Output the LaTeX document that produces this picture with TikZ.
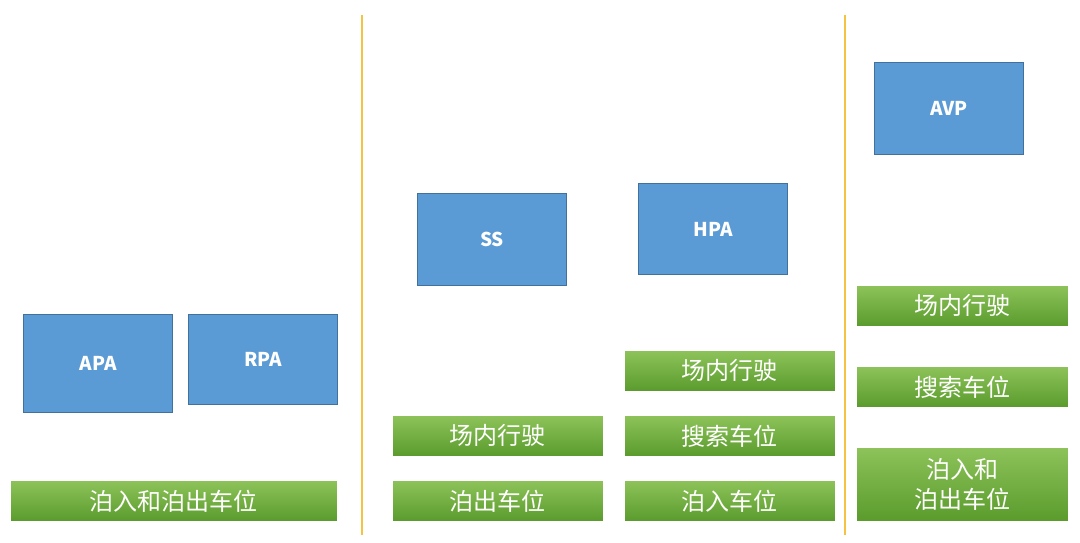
\documentclass[tikz,border=0pt]{standalone}
\usepackage{fontspec}
\newfontfamily\cjk{Noto Sans CJK SC}
\definecolor{boxblue}{HTML}{5B9BD5}
\definecolor{boxedge}{HTML}{41719C}
\definecolor{greentop}{HTML}{8DC35A}
\definecolor{greenbot}{HTML}{5A9B2C}
\definecolor{divider}{HTML}{F5C242}
\tikzset{
  bluebox/.style={rectangle, anchor=north west, inner sep=0pt, fill=boxblue, draw=boxedge, line width=1.2pt,
    text=white, font=\cjk\bfseries\fontsize{19}{22}\selectfont},
  greenbar/.style={rectangle, anchor=north west, inner sep=0pt, top color=greentop, bottom color=greenbot,
    draw=white, line width=0.8pt, text=white, align=center, font=\cjk\fontsize{24}{30}\selectfont},
  sepline/.style={divider, line width=1.3pt}
}
\begin{document}
\begin{tikzpicture}[x=1pt,y=-1pt]
\useasboundingbox (0,0) rectangle (1080,543);

% left group
\node[bluebox, minimum width=149pt, minimum height=98pt] (apa) at (23,314) {APA};
\node[bluebox, minimum width=149pt, minimum height=90pt] (rpa) at (188,314) {RPA};
\node[greenbar, minimum width=327pt, minimum height=41pt] (park) at (10,480) {泊入和泊出车位};

\coordinate (d1top) at (362,15);
\coordinate (d1bot) at (362,535);
\draw[sepline] (d1top) -- (d1bot);

% middle group
\node[bluebox, minimum width=149pt, minimum height=92pt] (ss) at (417,193) {SS};
\node[greenbar, minimum width=211pt, minimum height=41pt] (ssdrive) at (392,415) {场内行驶};
\node[greenbar, minimum width=211pt, minimum height=41pt] (ssout) at (392,480) {泊出车位};

\node[bluebox, minimum width=149pt, minimum height=91pt] (hpa) at (638,183) {HPA};
\node[greenbar, minimum width=211pt, minimum height=41pt] (hpadrive) at (624,350) {场内行驶};
\node[greenbar, minimum width=211pt, minimum height=41pt] (hpasearch) at (624,415) {搜索车位};
\node[greenbar, minimum width=211pt, minimum height=41pt] (hpain) at (624,480) {泊入车位};

\coordinate (d2top) at (845,15);
\coordinate (d2bot) at (845,535);
\draw[sepline] (d2top) -- (d2bot);

% right group
\node[bluebox, minimum width=149pt, minimum height=92pt] (avp) at (874,62) {AVP};
\node[greenbar, minimum width=212pt, minimum height=41pt] (avpdrive) at (856,285) {场内行驶};
\node[greenbar, minimum width=212pt, minimum height=41pt] (avpsearch) at (856,366) {搜索车位};
\node[greenbar, minimum width=212pt, minimum height=74pt] (avppark) at (856,447) {泊入和\\泊出车位};
\end{tikzpicture}
\end{document}
